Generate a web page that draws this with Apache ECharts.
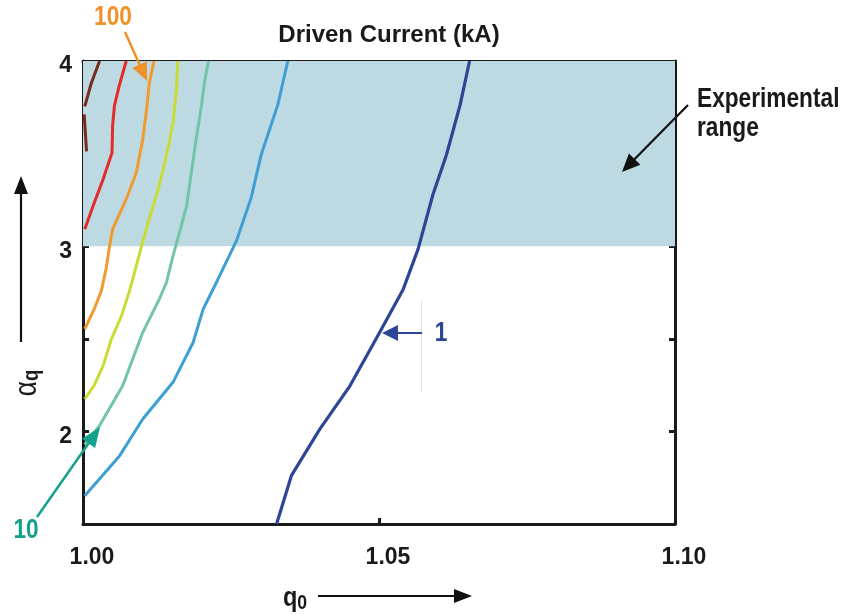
<!DOCTYPE html>
<html>
<head>
<meta charset="utf-8">
<script src="https://cdn.jsdelivr.net/npm/echarts@6/dist/echarts.min.js"></script>
<style>html,body{margin:0;padding:0;background:#fff}#c{width:848px;height:614px}</style>
</head>
<body>
<div id="c"></div>
<script>
// ---- data (q0, alpha_q) ----
var xTicks = [1.00, 1.05, 1.10];
var yTicks = [2, 3, 4];
var expRange = [3, 4];
var curveBrownA = [[1.0028,4.0],[1.0014,3.88],[1.0003,3.755]];
var curveBrownB = [[1.0002,3.712],[1.0004,3.61],[1.0006,3.512]];
var curveRed = [[1.0073,4.0],[1.0061,3.864],[1.0053,3.756],[1.0050,3.649],[1.0049,3.505],[1.0034,3.361],[1.0017,3.217],[1.0003,3.092]];
var curveOrange = [[1.0120,4.0],[1.0112,3.882],[1.0108,3.756],[1.0101,3.577],[1.0090,3.397],[1.0073,3.254],[1.0050,3.092],[1.0045,3.002],[1.0039,2.877],[1.0031,2.759],[1.0019,2.661],[1.0003,2.553]];
var curveYellow = [[1.0160,4.0],[1.0158,3.846],[1.0152,3.667],[1.0141,3.487],[1.0127,3.307],[1.0110,3.128],[1.0096,2.966],[1.0079,2.763],[1.0065,2.624],[1.0048,2.499],[1.0034,2.355],[1.0019,2.248],[1.0003,2.175]];
var curveTeal = [[1.0212,4.0],[1.0205,3.882],[1.0200,3.756],[1.0191,3.577],[1.0183,3.397],[1.0175,3.217],[1.0163,3.074],[1.0152,2.948],[1.0141,2.804],[1.0129,2.715],[1.0101,2.535],[1.0067,2.247],[1.0028,2.032],[1.0011,1.96],[1.0003,1.929]];
var curveBlue = [[1.0346,4.0],[1.0329,3.763],[1.0301,3.494],[1.0284,3.261],[1.0259,3.027],[1.0227,2.815],[1.0203,2.66],[1.0186,2.48],[1.0152,2.265],[1.0101,2.067],[1.0062,1.869],[1.0003,1.653]];
var curveNavy = [[1.0653,4.0],[1.0637,3.763],[1.0614,3.494],[1.0591,3.278],[1.0566,2.984],[1.0541,2.768],[1.0501,2.534],[1.0451,2.246],[1.0400,2.012],[1.0352,1.761],[1.0327,1.50]];

var FONT = "'Liberation Sans',Arial,sans-serif";
var SX = 0.84; // horizontal squeeze to imitate a condensed face
var colors = {brown:'#7b2a22', red:'#e22b2b', orange:'#f09a30', yellow:'#cadb33', teal:'#72c5a6', blue:'#3d9fd3', navy:'#2d4596'};

function lineSeries(data, color, w) {
  return {type:'line', data:data, symbol:'none', smooth:false, clip:true,
          lineStyle:{color:color, width:w||3}, z:3, silent:true};
}

function arrow(x1,y1,x2,y2,color,w,hl,hw){
  var dx=x2-x1, dy=y2-y1, L=Math.sqrt(dx*dx+dy*dy), ux=dx/L, uy=dy/L;
  var bx=x2-ux*hl, by=y2-uy*hl, px=-uy, py=ux;
  return [
    {type:'line', shape:{x1:x1,y1:y1,x2:bx+ux*2,y2:by+uy*2}, style:{stroke:color, lineWidth:w}, z:20},
    {type:'polygon', shape:{points:[[x2,y2],[bx+px*hw,by+py*hw],[bx-px*hw,by-py*hw]]}, style:{fill:color}, z:20}
  ];
}
function label(txt,x,y,color,align,extra){
  var st = {text:txt, x:0, y:0, font:'bold 27px '+FONT, fill:color, align:align, verticalAlign:'middle', textAlign:align, textVerticalAlign:'middle'};
  if (extra) for (var k in extra) st[k]=extra[k];
  return {type:'text', x:x, y:y, scaleX:SX, style:st, z:21};
}

var chart = echarts.init(document.getElementById('c'));
var axisLineStyle = {show:true, lineStyle:{color:'#1a1a1a', width:3}};
var tickStyle = {show:true, inside:true, length:6, lineStyle:{color:'#1a1a1a', width:3}};

var graphics = [];
graphics = graphics.concat(arrow(125,32,147,81,'#f0922a',2.5,18,8));
graphics = graphics.concat(arrow(37,517,100,427,'#13a08e',2.5,20,8));
graphics = graphics.concat(arrow(422,333,382,333,'#2d4596',2,16,8));
graphics = graphics.concat(arrow(688,105,622,172,'#111',2.2,18,8));
graphics = graphics.concat(arrow(21,342,21,176,'#111',2.2,18,7));
graphics = graphics.concat(arrow(318,596,472,596,'#111',2.2,18,7));
graphics.push({type:'line', shape:{x1:421.5,y1:300,x2:421.5,y2:393}, style:{stroke:'#e4e4e4', lineWidth:1}, z:19});
graphics.push(label('100',113,18,'#f0922a','center'));
graphics.push(label('10',26,531,'#13a08e','center'));
graphics.push(label('1',441,334,'#2d4596','center'));
graphics.push(label('Experimental',697,100,'#1a1a1a','left'));
graphics.push(label('range',697,129,'#1a1a1a','left'));
graphics.push({type:'text', x:27, y:383, rotation:Math.PI/2, scaleX:SX, style:{text:'{a|α}{s|q}', x:0, y:0, align:'center', verticalAlign:'middle', textAlign:'center', textVerticalAlign:'middle',
  rich:{a:{font:'31px '+FONT, fill:'#1a1a1a'}, s:{font:'bold 22px '+FONT, fill:'#1a1a1a', padding:[10,0,0,0]}}}, z:21});
graphics.push({type:'text', x:295, y:598, scaleX:SX, style:{text:'{q|q}{s|0}', x:0, y:0, align:'center', verticalAlign:'middle', textAlign:'center', textVerticalAlign:'middle',
  rich:{q:{font:'bold 28px '+FONT, fill:'#1a1a1a'}, s:{font:'bold 21px '+FONT, fill:'#1a1a1a', padding:[10,0,0,0]}}}, z:21});

var option = {
  animation:false,
  backgroundColor:'#fff',
  title:{text:'Driven Current (kA)', left:384, top:18, textAlign:'center',
         textStyle:{fontFamily:FONT, fontWeight:'bold', fontSize:24, color:'#1a1a1a'}},
  grid:{left:83, right:173, top:61, bottom:90, containLabel:false},
  xAxis:[
    {type:'value', min:1.0, max:1.1, interval:0.05, position:'bottom',
     axisLine:axisLineStyle, axisTick:tickStyle, splitLine:{show:false},
     axisLabel:{margin:22, padding:[0,0,0,18], fontFamily:FONT, fontWeight:'bold', fontSize:23, color:'#1a1a1a',
       formatter:function(v){ return xTicks.some(function(t){return Math.abs(t-v)<1e-9;}) ? v.toFixed(2) : ''; }}},
    {type:'value', min:1.0, max:1.1, interval:0.05, position:'top',
     axisLine:axisLineStyle, axisTick:tickStyle, splitLine:{show:false}, axisLabel:{show:false}}
  ],
  yAxis:[
    {type:'value', min:1.5, max:4, interval:0.5, position:'left',
     axisLine:axisLineStyle, axisTick:tickStyle, splitLine:{show:false},
     axisLabel:{margin:11, verticalAlign:'top', lineHeight:10, fontFamily:FONT, fontWeight:'bold', fontSize:23, color:'#1a1a1a',
       formatter:function(v){ return yTicks.indexOf(v)>=0 ? String(v) : ''; }}},
    {type:'value', min:1.5, max:4, interval:0.5, position:'right',
     axisLine:axisLineStyle, axisTick:tickStyle, splitLine:{show:false}, axisLabel:{show:false}}
  ],
  series:[
    {type:'line', data:[], symbol:'none', silent:true,
     markArea:{silent:true, itemStyle:{color:'#bdd9e1'}, data:[[{xAxis:1.0, yAxis:expRange[0]},{xAxis:1.1, yAxis:expRange[1]}]]}, z:1},
    lineSeries(curveBrownA, colors.brown, 3),
    lineSeries(curveBrownB, colors.brown, 3),
    lineSeries(curveRed, colors.red, 3),
    lineSeries(curveOrange, colors.orange, 3),
    lineSeries(curveYellow, colors.yellow, 3),
    lineSeries(curveTeal, colors.teal, 3),
    lineSeries(curveBlue, colors.blue, 3),
    lineSeries(curveNavy, colors.navy, 3.2)
  ],
  graphic:graphics
};
chart.setOption(option);
</script>
</body>
</html>
